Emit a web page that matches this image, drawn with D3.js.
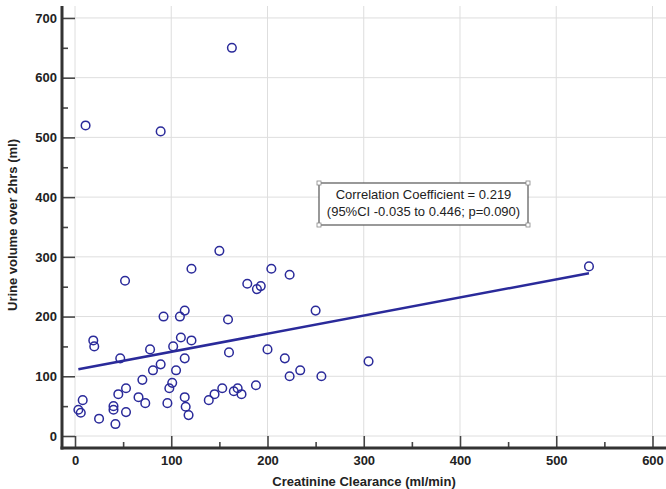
<!DOCTYPE html>
<html>
<head>
<meta charset="utf-8">
<script src="https://cdn.jsdelivr.net/npm/d3@7/dist/d3.min.js"></script>
<style>
  body { margin: 0; background: #fff; }
  svg { display: block; font-family: Arial, "Liberation Sans", sans-serif; }
  .tick text { font-size: 13px; font-weight: bold; fill: #222; }
</style>
</head>
<body>
<div id="chart"></div>
<script>
// creatinine clearance (ml/min)
var clearance = [3.5, 6, 8, 11, 19, 20, 25, 40, 40, 42, 45, 47, 52, 53, 53, 66, 70, 73, 78, 81,
    89, 89, 92, 96, 98, 101, 102, 105, 109, 110, 114, 114, 114, 115, 118, 121, 121, 139, 145, 150,
    153, 159, 160, 163, 165, 169, 173, 179, 188, 189, 193, 200, 204, 218, 223, 223, 234, 250, 256, 305, 534];
// urine volume over 2hrs (ml)
var urine = [44, 39, 60, 520, 160, 150, 29, 44, 50, 20, 70, 130, 260, 80, 40, 65, 94, 55, 145, 110,
    120, 510, 200, 55, 80, 89, 150, 110, 200, 165, 210, 130, 65, 49, 35, 160, 280, 60, 70, 310,
    80, 195, 140, 650, 75, 80, 70, 255, 85, 246, 251, 145, 280, 130, 270, 100, 110, 210, 100, 125, 284];

var xTicks = [0, 100, 200, 300, 400, 500, 600];
var yTicks = [0, 100, 200, 300, 400, 500, 600, 700];
var fitLine = [110.7, 0.303];   // intercept, slope
var noteLines = ["Correlation Coefficient = 0.219", "(95%CI -0.035 to 0.446; p=0.090)"];

var W = 666, H = 489;
var ink = "#2a2a9a";

var svg = d3.select("#chart").append("svg")
    .attr("width", W)
    .attr("height", H);

var x = d3.scaleLinear().domain([0, 613]).range([75, 665]);
var y = d3.scaleLinear().domain([0, 720]).range([436, 6]);

var axisX = 62, axisY = 448;

/* grid */
svg.append("g").selectAll("line.gx")
    .data(xTicks).enter().append("line")
    .attr("x1", function(d) { return x(d); })
    .attr("x2", function(d) { return x(d); })
    .attr("y1", 6).attr("y2", 436)
    .attr("stroke", "#dedede").attr("stroke-width", 1);

svg.append("g").selectAll("line.gy")
    .data(yTicks).enter().append("line")
    .attr("x1", 75).attr("x2", W)
    .attr("y1", function(d) { return y(d); })
    .attr("y2", function(d) { return y(d); })
    .attr("stroke", "#dedede").attr("stroke-width", 1);

/* axes - ticks point inward to the data area */
var gy = svg.append("g").attr("transform", "translate(" + axisX + ",0)")
    .call(d3.axisLeft(y).tickValues(yTicks).tickSize(-13).tickPadding(5));
gy.select(".domain").remove();

var gyMinor = svg.append("g").attr("transform", "translate(" + axisX + ",0)")
    .call(d3.axisLeft(y).tickValues(d3.range(50, 700, 100)).tickSize(-6).tickFormat(""));
gyMinor.select(".domain").remove();

var gx = svg.append("g").attr("transform", "translate(0," + axisY + ")")
    .call(d3.axisBottom(x).tickValues(xTicks).tickSize(-12).tickPadding(6));
gx.select(".domain").remove();
gx.selectAll("text").attr("dy", "0.71em").attr("y", 8);

var gxMinor = svg.append("g").attr("transform", "translate(0," + axisY + ")")
    .call(d3.axisBottom(x).tickValues(d3.range(50, 600, 100)).tickSize(-6).tickFormat(""));
gxMinor.select(".domain").remove();

svg.selectAll(".tick line").attr("stroke", "#444").attr("stroke-width", 1.6);

svg.append("line")
    .attr("x1", axisX).attr("x2", axisX)
    .attr("y1", 6).attr("y2", axisY + 1.5)
    .attr("stroke", "#333").attr("stroke-width", 3);
svg.append("line")
    .attr("x1", axisX - 1.5).attr("x2", W)
    .attr("y1", axisY).attr("y2", axisY)
    .attr("stroke", "#333").attr("stroke-width", 3);

/* axis titles */
svg.append("text")
    .attr("x", 364).attr("y", 486)
    .attr("text-anchor", "middle")
    .style("font-size", "13px").style("font-weight", "bold").style("fill", "#222")
    .text("Creatinine Clearance (ml/min)");

svg.append("text")
    .attr("transform", "translate(17,225) rotate(-90)")
    .attr("text-anchor", "middle")
    .style("font-size", "13px").style("font-weight", "bold").style("fill", "#222")
    .text("Urine volume over 2hrs (ml)");

/* regression line */
var xMin = d3.min(clearance), xMax = d3.max(clearance);
svg.append("line")
    .attr("x1", x(xMin)).attr("y1", y(fitLine[0] + fitLine[1] * xMin))
    .attr("x2", x(xMax)).attr("y2", y(fitLine[0] + fitLine[1] * xMax))
    .attr("stroke", ink).attr("stroke-width", 2.5);

/* points */
var pts = clearance.map(function(d, i) { return {cc: d, vol: urine[i]}; });
svg.append("g").selectAll("circle")
    .data(pts).enter().append("circle")
    .attr("cx", function(d) { return x(d.cc); })
    .attr("cy", function(d) { return y(d.vol); })
    .attr("r", 4.3)
    .attr("fill", "none")
    .attr("stroke", ink)
    .attr("stroke-width", 1.5);

/* annotation box */
var box = {x: 319, y: 183, w: 209, h: 42};
var note = svg.append("g");
note.append("rect")
    .attr("x", box.x).attr("y", box.y).attr("width", box.w).attr("height", box.h)
    .attr("fill", "#fff").attr("stroke", "#555").attr("stroke-width", 1.2);
[[box.x, box.y], [box.x + box.w, box.y], [box.x, box.y + box.h], [box.x + box.w, box.y + box.h]]
    .forEach(function(c) {
        note.append("rect")
            .attr("x", c[0] - 2).attr("y", c[1] - 2).attr("width", 4).attr("height", 4)
            .attr("fill", "#fff").attr("stroke", "#888").attr("stroke-width", 0.8);
    });
note.selectAll("text.n")
    .data(noteLines).enter().append("text")
    .attr("x", box.x + box.w / 2)
    .attr("y", function(d, i) { return box.y + 16 + i * 17; })
    .attr("text-anchor", "middle")
    .style("font-size", "13px").style("fill", "#222")
    .text(function(d) { return d; });
</script>
</body>
</html>
